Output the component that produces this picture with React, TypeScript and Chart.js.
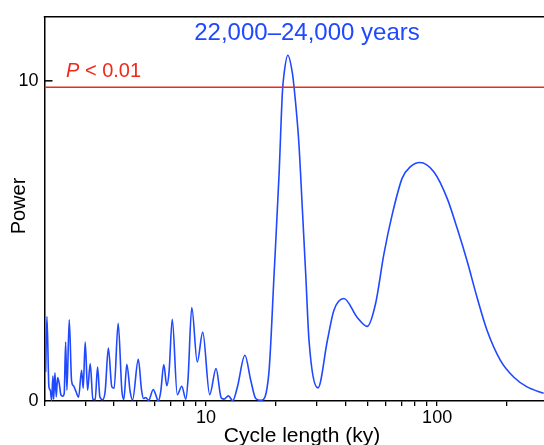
import React, { useEffect, useRef } from 'react';
import { Chart, registerables } from 'chart.js';

Chart.register(...registerables);

// Cycle length (ky) and spectral power
const cycleLength = [
  2.023, 2.049, 2.09, 2.118, 2.147, 2.175, 2.19, 2.219, 2.248, 2.279,
  2.316, 2.356, 2.396, 2.434, 2.469, 2.5, 2.559, 2.62, 2.673, 2.735,
  2.809, 2.894, 2.941, 3.0, 3.073, 3.153, 3.239, 3.314, 3.394, 3.472,
  3.567, 3.66, 3.779, 3.913, 4.003, 4.166, 4.322, 4.409, 4.543, 4.695,
  4.808, 5.093, 5.258, 5.364, 5.487, 5.637, 5.912, 6.061, 6.214, 6.37,
  6.564, 6.763, 6.919, 7.143, 7.508, 7.852, 8.172, 8.36, 8.675, 9.163,
  9.676, 10.37, 11.05, 11.63, 11.96, 12.5, 13.05, 13.67, 14.73, 15.61,
  16.4, 17.32, 18.7, 19.7, 20.7, 21.4, 21.74, 22.6, 23.63, 24.0,
  25.2, 26.1, 27.0, 27.9, 30.5, 33.5, 35.7, 39.5, 45.1, 49.8,
  54.1, 58.8, 63.9, 70.6, 76.7, 84.1, 96.7, 110.5, 122, 134.8,
  148.9, 164.5, 187.8, 214.3, 244.9, 288.9,
];
const power = [
  0.91, 2.64, 0.44, 0.34, 0.02, 0.78, 0.05, 0.88, 0.13, 0.73,
  0.55, 0.19, 0.15, 0.24, 1.84, 0.34, 2.54, 0.62, 0.47, 0.3,
  0.12, 0.96, 0.4, 1.84, 0.34, 1.17, 0.06, 0.04, 1.06, 0.13,
  0.04, 0.3, 1.65, 0.44, 0.4, 2.43, 0.34, 0.05, 1.15, 0.29,
  0.03, 1.3, 0.35, 0.08, 0.11, 0.02, 0.36, 0.19, 0.0, 0.3,
  1.14, 0.48, 0.91, 2.55, 0.2, 0.46, 0.06, 0.7, 2.92, 1.22,
  2.15, 0.2, 1.01, 0.1, 0.06, 0.16, 0.01, 0.44, 1.43, 0.65,
  0.08, 0.02, 0.87, 3.96, 7.07, 9.64, 10.2, 10.8, 10.25, 9.85,
  8.09, 6.02, 3.96, 1.89, 0.41, 1.89, 2.82, 3.2, 2.61, 2.33,
  3.03, 4.58, 5.82, 6.96, 7.32, 7.45, 7.16, 6.33, 5.4, 4.37,
  3.23, 2.2, 1.27, 0.75, 0.44, 0.24,
];

const thresholdValue = 9.8;
const xMin = 2;
const xMax = 290;
const yMin = 0;
const yMax = 12;
const yTicks = [0, 10];
const xTicks = [2, 3, 4, 5, 6, 7, 8, 9, 10, 20, 30, 40, 50, 60, 70, 80, 90, 100, 200];
const xTickLabels = [10, 100];
const titleText = '22,000–24,000 years';
const thresholdItalic = 'P';
const thresholdRest = ' < 0.01';
const xTitle = 'Cycle length (ky)';
const yTitle = 'Power';

const BLUE = '#1f48ff';
const RED = '#ee2a1a';
const FONT = '"Liberation Sans", Arial, Helvetica, sans-serif';

const overlayPlugin = {
  id: 'overlay',
  afterDraw(chart: any) {
    const { ctx, chartArea } = chart;
    const y = chart.scales.y;
    ctx.save();
    // top frame line
    ctx.strokeStyle = '#000';
    ctx.lineWidth = 1.5;
    ctx.beginPath();
    ctx.moveTo(chartArea.left - 0.75, chartArea.top);
    ctx.lineTo(chartArea.right, chartArea.top);
    ctx.stroke();
    // inward tick at 10
    const y10 = y.getPixelForValue(10);
    ctx.beginPath();
    ctx.moveTo(chartArea.left, y10);
    ctx.lineTo(chartArea.left + 8, y10);
    ctx.stroke();

    // title
    ctx.fillStyle = BLUE;
    ctx.font = `24px ${FONT}`;
    ctx.textAlign = 'center';
    ctx.textBaseline = 'alphabetic';
    ctx.fillText(titleText, 307, 40);

    // threshold label
    ctx.fillStyle = RED;
    ctx.textAlign = 'left';
    ctx.font = `italic 20px ${FONT}`;
    ctx.fillText(thresholdItalic, 66, 77);
    const w = ctx.measureText(thresholdItalic).width;
    ctx.font = `20px ${FONT}`;
    ctx.fillText(thresholdRest, 66 + w, 77);

    // axis titles
    ctx.fillStyle = '#000';
    ctx.font = `21px ${FONT}`;
    ctx.textAlign = 'center';
    ctx.fillText(xTitle, 302, 442);

    ctx.save();
    ctx.translate(19, 206);
    ctx.rotate(-Math.PI / 2);
    ctx.font = `20px ${FONT}`;
    ctx.textBaseline = 'middle';
    ctx.fillText(yTitle, 0, 0);
    ctx.restore();

    ctx.restore();
  },
};

export default function App() {
  const ref = useRef<HTMLCanvasElement>(null);

  useEffect(() => {
    if (!ref.current) return;
    const chart = new Chart(ref.current, {
      type: 'line',
      data: {
        datasets: [
          {
            data: [
              { x: xMin, y: thresholdValue },
              { x: xMax, y: thresholdValue },
            ],
            borderColor: RED,
            borderWidth: 1.5,
            pointRadius: 0,
            tension: 0,
          },
          {
            data: cycleLength.map((c, i) => ({ x: c, y: power[i] })),
            borderColor: BLUE,
            borderWidth: 1.6,
            pointRadius: 0,
            cubicInterpolationMode: 'monotone',
          },
        ],
      },
      options: {
        responsive: false,
        animation: false,
        devicePixelRatio: 1,
        layout: { padding: { top: 14, left: 0, right: 0, bottom: 0 } },
        plugins: {
          legend: { display: false },
          tooltip: { enabled: false },
        },
        scales: {
          x: {
            type: 'logarithmic',
            min: xMin,
            max: xMax,
            afterBuildTicks: (s: any) => {
              s.ticks = xTicks.map((v) => ({ value: v }));
            },
            afterFit: (s: any) => {
              s.height = 44;
            },
            ticks: {
              autoSkip: false,
              maxRotation: 0,
              minRotation: 0,
              padding: 1,
              color: '#000',
              font: { family: FONT, size: 18 },
              callback: (v: any) => (xTickLabels.includes(Number(v)) ? String(v) : ''),
            },
            grid: {
              display: true,
              drawOnChartArea: false,
              drawTicks: true,
              tickLength: 5,
              color: '#000',
              lineWidth: 1.3,
            },
            border: { display: true, color: '#000', width: 1.5 },
          },
          y: {
            type: 'linear',
            min: yMin,
            max: yMax,
            afterBuildTicks: (s: any) => {
              s.ticks = yTicks.map((v) => ({ value: v }));
            },
            afterFit: (s: any) => {
              s.width = 44.5;
            },
            ticks: {
              padding: 6,
              color: '#000',
              font: { family: FONT, size: 18 },
            },
            grid: { display: false, drawTicks: false },
            border: { display: true, color: '#000', width: 1.5 },
          },
        },
      },
      plugins: [overlayPlugin],
    } as any);
    return () => chart.destroy();
  }, []);

  return (
    <div style={{ position: 'absolute', left: 0, top: 0, width: 544, height: 445, background: '#fff' }}>
      <canvas ref={ref} width={544} height={445} style={{ display: 'block' }} />
    </div>
  );
}
